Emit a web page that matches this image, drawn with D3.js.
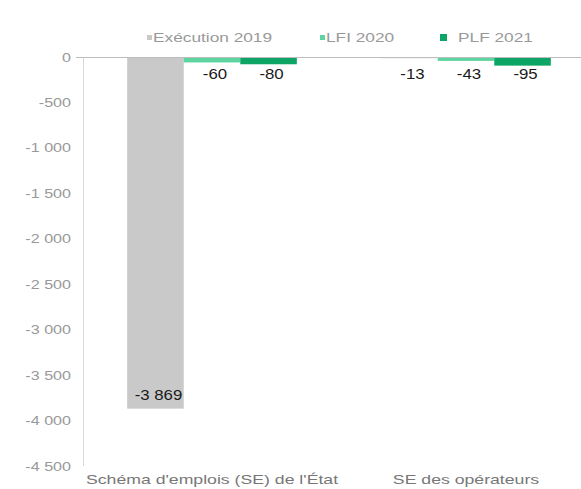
<!DOCTYPE html>
<html>
<head>
<meta charset="utf-8">
<script src="https://cdn.jsdelivr.net/npm/d3@7"></script>
<style>
  body { margin: 0; background: #fff; }
  text { font-family: "Liberation Sans", Arial, sans-serif; }
</style>
</head>
<body>
<svg id="chart"></svg>
<script>
const categories = ["Schéma d'emplois (SE) de l'État", "SE des opérateurs"];
const seriesNames = ["Exécution 2019", "LFI 2020", "PLF 2021"];
const execution2019 = [-3869, -13];
const lfi2020 = [-60, -43];
const plf2021 = [-80, -95];
const yTicks = [0, -500, -1000, -1500, -2000, -2500, -3000, -3500, -4000, -4500];

const colors = ["#c9c9c9", "#5cd5a0", "#0ca566"];
const seriesValues = [execution2019, lfi2020, plf2021];

const width = 581, height = 489;
const svg = d3.select("#chart").attr("width", width).attr("height", height);

const fr = d3.formatLocale({ decimal: ",", thousands: "\u00a0", grouping: [3], currency: ["", " €"], minus: "-" });
const fmt = fr.format(",.0f");

const y = d3.scaleLinear().domain([-4500, 0]).range([466, 57]);

const x = d3.scaleBand()
    .domain(categories)
    .range([84, 594])
    .paddingInner(0.332)
    .paddingOuter(0.17);

const xSub = d3.scaleBand()
    .domain(seriesNames)
    .range([0, x.bandwidth()]);

// the source image is stretched sideways, so text gets a horizontal scale
function stretchedText(sel, sx) {
    return sel.append("g")
        .attr("transform", d => `translate(${d.tx},${d.ty}) scale(${sx},1)`)
        .append("text");
}

// y axis labels
const yLab = svg.append("g")
    .selectAll("g")
    .data(yTicks.map(v => ({ v: v, tx: 71, ty: y(v) + 4.5 })))
    .enter();
stretchedText(yLab, 1.24)
    .attr("text-anchor", "end")
    .attr("font-size", 13)
    .attr("fill", "#999")
    .text(d => fmt(d.v));

// vertical axis line
svg.append("line")
    .attr("x1", 83.5).attr("x2", 83.5)
    .attr("y1", y(0)).attr("y2", y(-4500))
    .attr("stroke", "#d9d9d9");

// bars
const rows = [];
categories.forEach((c, i) => {
    seriesNames.forEach((s, j) => {
        rows.push({ cat: c, series: s, value: seriesValues[j][i], color: colors[j] });
    });
});

svg.append("g")
    .selectAll("rect")
    .data(rows)
    .enter().append("rect")
    .attr("x", d => x(d.cat) + xSub(d.series))
    .attr("y", y(0))
    .attr("width", xSub.bandwidth())
    .attr("height", d => y(d.value) - y(0))
    .attr("fill", d => d.color);

// zero line
svg.append("line")
    .attr("x1", 76).attr("x2", width)
    .attr("y1", y(0) + 0.5).attr("y2", y(0) + 0.5)
    .attr("stroke", "#bdbdbd");

// value labels
rows.forEach(d => {
    d.tx = x(d.cat) + xSub(d.series) + xSub.bandwidth() / 2 + 3;
    d.ty = d.value < -1000 ? y(d.value) - 9 : y(0) + 22;
});
const vLab = svg.append("g").selectAll("g").data(rows).enter();
stretchedText(vLab, 1.2)
    .attr("text-anchor", "middle")
    .attr("font-size", 14)
    .attr("fill", "#1a1a1a")
    .text(d => fmt(d.value));

// category labels
const cLab = svg.append("g")
    .selectAll("g")
    .data(categories.map(c => ({ c: c, tx: x(c) + x.bandwidth() / 2, ty: 484 })))
    .enter();
stretchedText(cLab, 1.36)
    .attr("text-anchor", "middle")
    .attr("font-size", 13)
    .attr("fill", "#777")
    .text(d => d.c);

// legend
const legendX = [147, 320, 440];
const legend = svg.append("g")
    .selectAll("g")
    .data(seriesNames)
    .enter().append("g")
    .attr("transform", (d, i) => `translate(${legendX[i]},42)`);

legend.append("rect")
    .attr("x", 0).attr("y", (d, i) => i === 2 ? -8 : -7)
    .attr("width", (d, i) => i === 2 ? 7 : 5)
    .attr("height", (d, i) => i === 2 ? 7 : 5)
    .attr("fill", (d, i) => colors[i]);

legend.append("g")
    .attr("transform", (d, i) => `translate(${i === 2 ? 18 : 6},0) scale(1.33,1)`)
    .append("text")
    .attr("font-size", 13)
    .attr("fill", "#999")
    .text(d => d);
</script>
</body>
</html>
